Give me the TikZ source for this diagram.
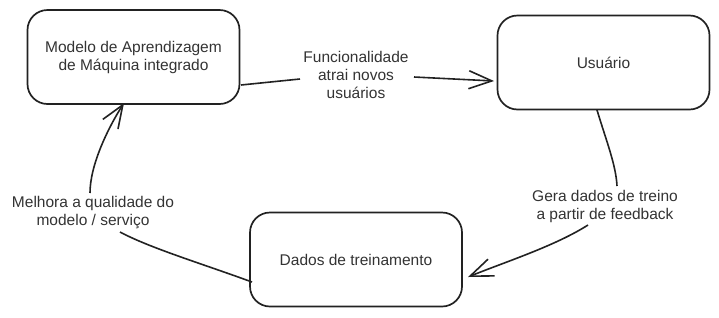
\documentclass[tikz,border=0pt]{standalone}
\usepackage{fontspec}
\setmainfont{Liberation Sans}
\usetikzlibrary{arrows.meta}
\definecolor{txt}{HTML}{333333}
\definecolor{ln}{HTML}{222222}
\tikzset{
  box/.style={draw=ln, line width=1.7pt, rounded corners=20pt, minimum width=212pt, minimum height=94pt, align=center, text=txt, font=\fontsize{15.5}{18}\selectfont},
  lbl/.style={align=center, text=txt, font=\fontsize{15.5}{18}\selectfont, inner sep=2pt},
  conn/.style={draw=ln, line width=1.6pt},
  arr/.style={conn, -{Straight Barb[length=23pt,width=18pt,line width=1.6pt]}},
}
\begin{document}
\begin{tikzpicture}[x=1pt,y=-1pt]
\useasboundingbox (0,0) rectangle (719,317);
\node[box] (b1) at (133.5,57) {Modelo de Aprendizagem\\de Máquina integrado};
\node[box] (b2) at (603.5,62.5) {Usuário};
\node[box] (b3) at (356,259.5) {Dados de treinamento};
\node[lbl] (l1) at (356,75) {Funcionalidade\\atrai novos\\usuários};
\node[lbl] (l2) at (605,206) {Gera dados de treino\\a partir de feedback};
\node[lbl] (l3) at (93,213) {Melhora a qualidade do\\modelo / serviço};
\coordinate (c1s) at (241,85);
\coordinate (c1m) at (300,79);
\coordinate (c1n) at (414,77);
\coordinate (c1e) at (494,81);
\coordinate (c2s) at (597,110);
\coordinate (c2m) at (617,186);
\coordinate (c2n) at (588,225);
\coordinate (c2e) at (468,277);
\coordinate (c3s) at (252,282);
\coordinate (c3m) at (120,232);
\coordinate (c3n) at (90,193);
\coordinate (c3e) at (124,103);
\draw[conn] (c1s) -- (c1m);
\draw[arr] (c1n) -- (c1e);
\draw[conn] (c2s) .. controls (606,140) and (616,165) .. (c2m);
\draw[arr] (c2n) .. controls (555,246) and (505,262) .. (c2e);
\draw[conn] (c3s) .. controls (200,263) and (150,248) .. (c3m);
\draw[arr] (c3n) .. controls (90,165) and (108,128) .. (c3e);
\end{tikzpicture}
\end{document}
